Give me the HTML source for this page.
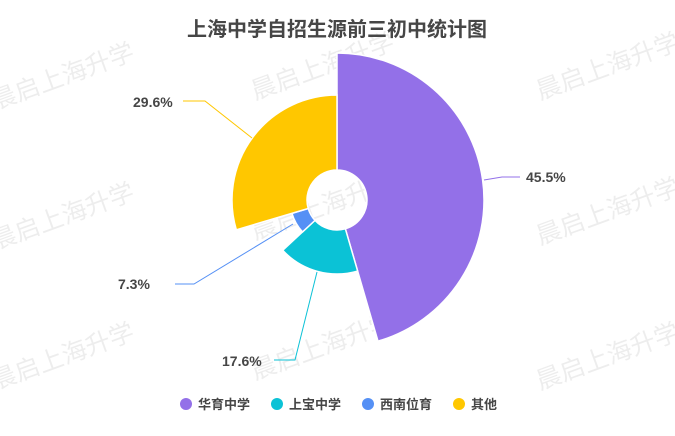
<!DOCTYPE html>
<html><head><meta charset="utf-8"><style>
body{margin:0;background:#fff;}
svg text{font-family:"Liberation Sans","Noto Sans CJK SC",sans-serif;}
</style></head><body>
<svg width="675" height="431" xmlns="http://www.w3.org/2000/svg">
<g fill="#000" fill-opacity="0.07" font-size="25">
<text transform="translate(-5,110) rotate(-20)">晨启上海升学</text>
<text transform="translate(255,100) rotate(-20)">晨启上海升学</text>
<text transform="translate(540,100) rotate(-20)">晨启上海升学</text>
<text transform="translate(-5,250) rotate(-20)">晨启上海升学</text>
<text transform="translate(255,240) rotate(-20)">晨启上海升学</text>
<text transform="translate(540,245) rotate(-20)">晨启上海升学</text>
<text transform="translate(-5,390) rotate(-20)">晨启上海升学</text>
<text transform="translate(255,380) rotate(-20)">晨启上海升学</text>
<text transform="translate(540,390) rotate(-20)">晨启上海升学</text>
</g>
<text x="337" y="36" text-anchor="middle" font-size="20" font-weight="bold" fill="#464646">上海中学自招生源前三初中统计图</text>
<g stroke="#fff" stroke-width="1.5">
<path id="p" fill="#9370e8"/>
</g>
<script>
function arc(r0,r1,a0,a1){const cx=337,cy=200;function pt(r,a){a=a*Math.PI/180;return[cx+r*Math.sin(a),cy-r*Math.cos(a)];}
const l=(a1-a0)>180?1:0;const A=pt(r1,a0),B=pt(r1,a1),C=pt(r0,a1),D=pt(r0,a0);
return `M${A}A${r1},${r1} 0 ${l} 1 ${B}L${C}A${r0},${r0} 0 ${l} 0 ${D}Z`;}
const data=[[147,0,163.8,'#9370e8'],[74,163.8,227.2,'#0bc2d6'],[47,227.2,253.5,'#5590f5'],[105,253.5,360,'#ffc700']];
const g=document.getElementById('p').parentNode;g.innerHTML='';
for(const d of data){const p=document.createElementNS('http://www.w3.org/2000/svg','path');p.setAttribute('d',arc(30,d[0],d[1],d[2]));p.setAttribute('fill',d[3]);g.appendChild(p);}
</script>
<g fill="none" stroke-width="1">
<polyline points="484,180 502,177 520,177" stroke="#9370e8"/>
<polyline points="252,138 205,101 183,101" stroke="#ffc700"/>
<polyline points="293,224 194,284 175,284" stroke="#5590f5"/>
<polyline points="317,272 295,360 274,360" stroke="#0bc2d6"/>
</g>
<g font-size="14" font-weight="bold" fill="#464646">
<text x="526" y="182">45.5%</text>
<text x="133" y="107">29.6%</text>
<text x="118" y="289">7.3%</text>
<text x="222" y="366">17.6%</text>
</g>
<g font-size="13" fill="#464646" font-weight="bold">
<circle cx="186" cy="404" r="6" fill="#9370e8"/><text x="198" y="409">华育中学</text>
<circle cx="277" cy="404" r="6" fill="#0bc2d6"/><text x="289" y="409">上宝中学</text>
<circle cx="368" cy="404" r="6" fill="#5590f5"/><text x="380" y="409">西南位育</text>
<circle cx="459" cy="404" r="6" fill="#ffc700"/><text x="471" y="409">其他</text>
</g>
</svg>
</body></html>
